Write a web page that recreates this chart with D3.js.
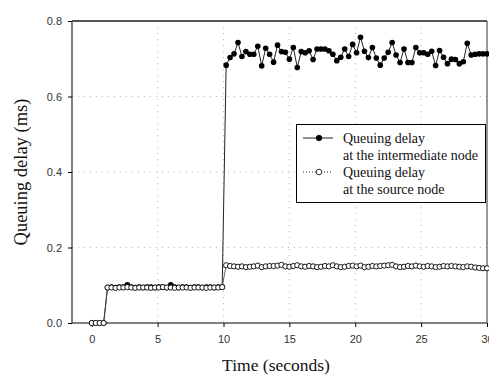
<!DOCTYPE html>
<html>
  <head>
    <title>Queuing delay</title>
    <script src="https://d3js.org/d3.v7.min.js"></script>
    <style>
      body { margin: 0; background: #fff; }
      .tick text { font-family: Arial, "Liberation Sans", sans-serif; font-size: 11px; fill: #333; }
    </style>
  </head>
  <body>
    <svg width="489" height="376"></svg>

    <script type="text/javascript">
      // samples every 0.3 s, from t = 0 to t = 30
      var sampleStep = 0.3;

      var intermediateDelay = [
        0, 0, 0, 0,
        0.094, 0.095, 0.094, 0.095, 0.095, 0.101, 0.095, 0.094, 0.095, 0.094,
        0.095, 0.095, 0.094, 0.095, 0.095, 0.094, 0.101, 0.095, 0.094, 0.095,
        0.095, 0.094, 0.095, 0.095, 0.094, 0.095, 0.095, 0.094, 0.095, 0.095,
        0.683, 0.703, 0.713, 0.743, 0.706, 0.719, 0.712, 0.712, 0.733, 0.681,
        0.728, 0.712, 0.691, 0.736, 0.719, 0.717, 0.699,
        0.730, 0.677, 0.719, 0.716, 0.721, 0.698, 0.726, 0.726, 0.726, 0.721,
        0.712, 0.695, 0.704, 0.726, 0.706, 0.738, 0.716,
        0.757, 0.720, 0.703, 0.730, 0.702, 0.683, 0.702, 0.717, 0.743, 0.710,
        0.690, 0.726, 0.690, 0.690, 0.730, 0.716, 0.716,
        0.712, 0.720, 0.682, 0.722, 0.704, 0.687, 0.699, 0.698, 0.687, 0.692,
        0.741, 0.710, 0.712, 0.713, 0.713, 0.713
      ];

      var sourceDelay = [
        0, 0, 0, 0,
        0.094, 0.094, 0.093, 0.094, 0.094, 0.095, 0.094, 0.093, 0.094, 0.094,
        0.094, 0.093, 0.094, 0.094, 0.095, 0.094, 0.094, 0.093, 0.094, 0.094,
        0.094, 0.093, 0.094, 0.094, 0.094, 0.093, 0.094, 0.094, 0.094, 0.095,
        0.153, 0.151, 0.150, 0.149, 0.150, 0.148, 0.149, 0.150, 0.152, 0.148,
        0.150, 0.151, 0.151, 0.152, 0.154, 0.150, 0.149, 0.151, 0.153, 0.150,
        0.149, 0.151, 0.150, 0.148, 0.149, 0.151, 0.150, 0.153, 0.150, 0.148,
        0.149, 0.151, 0.152, 0.150, 0.152, 0.148, 0.149, 0.151, 0.150, 0.151,
        0.152, 0.153, 0.154, 0.150, 0.148, 0.149, 0.151, 0.150, 0.152, 0.150,
        0.149, 0.151, 0.150, 0.148, 0.149, 0.151, 0.150, 0.151, 0.150, 0.149,
        0.148, 0.150, 0.149, 0.147, 0.146, 0.145, 0.145
      ];

      var xTicks = [0, 5, 10, 15, 20, 25, 30];
      var yTicks = [0, 0.2, 0.4, 0.6, 0.8];

      var legendLabels = [
        ["Queuing delay", "at the intermediate node"],
        ["Queuing delay", "at the source node"]
      ];

      var svg = d3.select("svg");
      var plotLeft = 72, plotRight = 487, plotTop = 21, plotBottom = 323;

      var x = d3.scaleLinear().domain([-1.5, 30]).range([plotLeft, plotRight]);
      var y = d3.scaleLinear().domain([0, 0.8]).range([plotBottom, plotTop]);

      function toPoints(values) {
        return values.map(function (v, i) {
          return { t: i * sampleStep, v: v };
        });
      }

      // grid (faint dotted)
      var grid = svg.append("g").attr("stroke", "#bbb").attr("stroke-dasharray", "1,5");
      grid.selectAll(".gx").data(xTicks.slice(1, -1)).enter().append("line")
        .attr("x1", function (d) { return x(d); }).attr("x2", function (d) { return x(d); })
        .attr("y1", plotTop).attr("y2", plotBottom);
      grid.selectAll(".gy").data(yTicks.slice(1, -1)).enter().append("line")
        .attr("y1", function (d) { return y(d); }).attr("y2", function (d) { return y(d); })
        .attr("x1", plotLeft).attr("x2", plotRight);

      // axes
      var xAxis = d3.axisBottom(x).tickValues(xTicks).tickFormat(d3.format("d")).tickSize(4).tickPadding(8);
      var gx = svg.append("g").attr("transform", "translate(0," + plotBottom + ")").call(xAxis);
      gx.select(".domain").remove();
      var yAxis = d3.axisLeft(y).tickValues(yTicks).tickFormat(d3.format(".1f")).tickSize(4).tickPadding(6);
      var gy = svg.append("g").attr("transform", "translate(" + plotLeft + ",0)").call(yAxis);
      gy.select(".domain").remove();

      // frame
      svg.append("line").attr("x1", plotLeft).attr("x2", plotRight).attr("y1", plotBottom).attr("y2", plotBottom).attr("stroke", "#000");
      svg.append("line").attr("x1", plotLeft).attr("x2", plotLeft).attr("y1", plotTop).attr("y2", plotBottom).attr("stroke", "#000");
      svg.append("line").attr("x1", plotRight).attr("x2", plotRight).attr("y1", plotTop).attr("y2", plotBottom).attr("stroke", "#333");
      svg.append("line").attr("x1", plotLeft).attr("x2", plotRight).attr("y1", plotTop).attr("y2", plotTop)
        .attr("stroke", "#555").attr("stroke-width", 2);

      var line = d3.line().x(function (d) { return x(d.t); }).y(function (d) { return y(d.v); });

      // intermediate node (filled)
      var interPts = toPoints(intermediateDelay);
      svg.append("path").datum(interPts).attr("d", line)
        .attr("fill", "none").attr("stroke", "#222").attr("stroke-width", 1);
      svg.append("g").selectAll("circle").data(interPts).enter().append("circle")
        .attr("cx", function (d) { return x(d.t); }).attr("cy", function (d) { return y(d.v); })
        .attr("r", 2.8).attr("fill", "#000");

      // source node (hollow)
      var srcPts = toPoints(sourceDelay);
      svg.append("path").datum(srcPts).attr("d", line)
        .attr("fill", "none").attr("stroke", "#444").attr("stroke-width", 0.8);
      svg.append("g").selectAll("circle").data(srcPts).enter().append("circle")
        .attr("cx", function (d) { return x(d.t); }).attr("cy", function (d) { return y(d.v); })
        .attr("r", 2.6).attr("fill", "#fff").attr("stroke", "#000").attr("stroke-width", 0.9);

      // legend
      var legend = svg.append("g");
      legend.append("rect").attr("x", 296.5).attr("y", 124.5).attr("width", 189).attr("height", 78)
        .attr("fill", "#fff").attr("stroke", "#000");
      var rows = [138, 172];
      legend.selectAll(".ll").data(rows).enter().append("line")
        .attr("x1", 303).attr("x2", 333)
        .attr("y1", function (d) { return d; }).attr("y2", function (d) { return d; })
        .attr("stroke", "#222")
        .attr("stroke-dasharray", function (d, i) { return i === 1 ? "1,2" : null; });
      legend.selectAll(".lc").data(rows).enter().append("circle")
        .attr("cx", 319).attr("cy", function (d) { return d; }).attr("r", 2.8)
        .attr("fill", function (d, i) { return i === 0 ? "#000" : "#fff"; })
        .attr("stroke", "#000").attr("stroke-width", 0.8);
      legendLabels.forEach(function (lines, i) {
        lines.forEach(function (txt, j) {
          legend.append("text").attr("x", 343).attr("y", rows[i] + 5 + j * 17)
            .attr("font-family", "'Liberation Serif', 'Times New Roman', serif")
            .attr("font-size", 14).attr("fill", "#111").text(txt);
        });
      });

      // axis titles
      svg.append("text").attr("x", 276).attr("y", 371).attr("text-anchor", "middle")
        .attr("font-family", "'Liberation Serif', 'Times New Roman', serif")
        .attr("font-size", 17.5).attr("fill", "#111").text("Time (seconds)");
      svg.append("text").attr("transform", "translate(27,172) rotate(-90)").attr("text-anchor", "middle")
        .attr("font-family", "'Liberation Serif', 'Times New Roman', serif")
        .attr("font-size", 18.5).attr("fill", "#111").text("Queuing delay (ms)");
    </script>
  </body>
</html>
